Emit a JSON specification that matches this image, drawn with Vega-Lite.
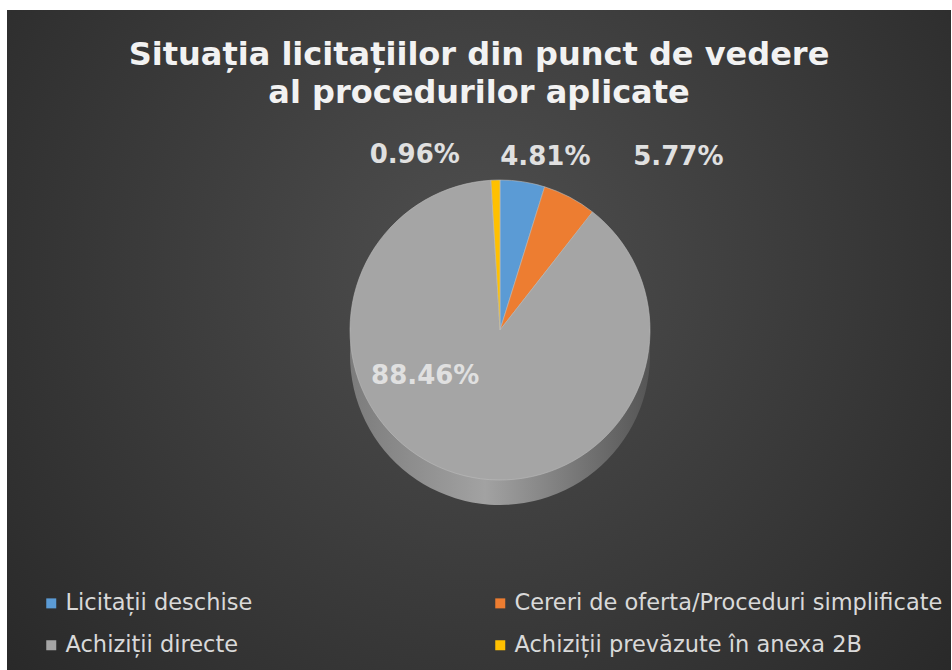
{
  "$schema": "https://vega.github.io/schema/vega-lite/v6.json",
  "width": 944,
  "height": 660,
  "autosize": {"type": "none"},
  "padding": {"left": 7, "top": 10, "right": 1, "bottom": 0},
  "background": "#ffffff",
  "config": {"view": {"stroke": null}},
  "title": {
    "text": ["Situația licitațiilor din punct de vedere", "al procedurilor aplicate"],
    "font": "DejaVu Sans",
    "fontSize": 32,
    "fontWeight": "bold",
    "color": "#f2f2f2",
    "lineHeight": 38,
    "offset": -100,
    "anchor": "middle",
    "frame": "group"
  },
  "datasets": {
    "slices": [
      {"cat": "Licitații deschise", "share": 0.0481, "k": 1},
      {"cat": "Cereri de oferta/Proceduri simplificate", "share": 0.0577, "k": 2},
      {"cat": "Achiziții directe", "share": 0.8846, "k": 3},
      {"cat": "Achiziții prevăzute în anexa 2B", "share": 0.0096, "k": 4}
    ]
  },
  "layer": [
    {
      "data": {"values": [{}]},
      "mark": {
        "type": "rect",
        "color": {
          "gradient": "radial",
          "x1": 0.5, "y1": 0.42, "r1": 0,
          "x2": 0.5, "y2": 0.42, "r2": 0.75,
          "stops": [
            {"offset": 0, "color": "#4f4f4f"},
            {"offset": 1, "color": "#242424"}
          ]
        }
      }
    },
    {
      "data": {"name": "slices"},
      "mark": {
        "type": "arc",
        "radius": 150,
        "x": {"expr": "width/2+21"},
        "y": {"expr": "height/2+15"},
        "color": {
          "gradient": "linear",
          "x1": 0, "y1": 0, "x2": 1, "y2": 0,
          "stops": [
            {"offset": 0, "color": "#7c7c7c"},
            {"offset": 0.45, "color": "#a2a2a2"},
            {"offset": 1, "color": "#555555"}
          ]
        }
      },
      "encoding": {
        "theta": {"field": "share", "type": "quantitative"},
        "order": {"field": "k", "type": "quantitative"}
      }
    },
    {
      "data": {"name": "slices"},
      "mark": {
        "type": "arc",
        "radius": 150,
        "x": {"expr": "width/2+21"},
        "y": {"expr": "height/2-10"},
        "stroke": "#bcbcbc",
        "strokeWidth": 0.6
      },
      "encoding": {
        "theta": {"field": "share", "type": "quantitative"},
        "order": {"field": "k", "type": "quantitative"},
        "color": {
          "field": "cat",
          "type": "nominal",
          "scale": {
            "domain": ["Licitații deschise", "Cereri de oferta/Proceduri simplificate", "Achiziții directe", "Achiziții prevăzute în anexa 2B"],
            "range": ["#5B9BD5", "#ED7D31", "#A5A5A5", "#FFC000"]
          },
          "legend": {
            "title": null,
            "orient": "none",
            "direction": "horizontal",
            "legendX": 33,
            "legendY": 582,
            "columns": 2,
            "padding": 0,
            "columnPadding": 236,
            "rowPadding": 19,
            "symbolType": "square",
            "symbolSize": 100,
            "symbolStrokeWidth": 0,
            "symbolOffset": 0,
            "labelOffset": 3,
            "labelFont": "DejaVu Sans",
            "labelFontSize": 22.5,
            "labelColor": "#d9d9d9",
            "labelLimit": 600
          }
        }
      }
    },
    {
      "data": {"name": "slices"},
      "mark": {
        "type": "text",
        "radius": 175,
        "x": {"expr": "width/2+21"},
        "y": {"expr": "height/2-10"},
        "dx": 19,
        "font": "DejaVu Sans",
        "fontSize": 26,
        "fontWeight": "bold",
        "color": "#e0e0e0",
        "baseline": "middle",
        "align": "center"
      },
      "encoding": {
        "theta": {"field": "share", "type": "quantitative", "stack": true},
        "order": {"field": "k", "type": "quantitative"},
        "text": {"condition": {"test": "datum.cat === 'Licitații deschise'", "field": "share", "format": ".2%"}, "value": ""}
      }
    },
    {
      "data": {"name": "slices"},
      "mark": {
        "type": "text",
        "radius": 175,
        "x": {"expr": "width/2+21"},
        "y": {"expr": "height/2-10"},
        "dx": 97,
        "dy": -18,
        "font": "DejaVu Sans",
        "fontSize": 26,
        "fontWeight": "bold",
        "color": "#e0e0e0",
        "baseline": "middle",
        "align": "center"
      },
      "encoding": {
        "theta": {"field": "share", "type": "quantitative", "stack": true},
        "order": {"field": "k", "type": "quantitative"},
        "text": {"condition": {"test": "datum.cat === 'Cereri de oferta/Proceduri simplificate'", "field": "share", "format": ".2%"}, "value": ""}
      }
    },
    {
      "data": {"name": "slices"},
      "mark": {
        "type": "text",
        "radius": 175,
        "x": {"expr": "width/2+21"},
        "y": {"expr": "height/2-10"},
        "dx": -80,
        "font": "DejaVu Sans",
        "fontSize": 26,
        "fontWeight": "bold",
        "color": "#e0e0e0",
        "baseline": "middle",
        "align": "center"
      },
      "encoding": {
        "theta": {"field": "share", "type": "quantitative", "stack": true},
        "order": {"field": "k", "type": "quantitative"},
        "text": {"condition": {"test": "datum.cat === 'Achiziții prevăzute în anexa 2B'", "field": "share", "format": ".2%"}, "value": ""}
      }
    },
    {
      "data": {"name": "slices"},
      "mark": {
        "type": "text",
        "radius": 90,
        "x": {"expr": "width/2+21"},
        "y": {"expr": "height/2-10"},
        "dx": -48,
        "dy": -40,
        "font": "DejaVu Sans",
        "fontSize": 26,
        "fontWeight": "bold",
        "color": "#e0e0e0",
        "baseline": "middle",
        "align": "center"
      },
      "encoding": {
        "theta": {"field": "share", "type": "quantitative", "stack": true},
        "order": {"field": "k", "type": "quantitative"},
        "text": {"condition": {"test": "datum.cat === 'Achiziții directe'", "field": "share", "format": ".2%"}, "value": ""}
      }
    }
  ]
}
